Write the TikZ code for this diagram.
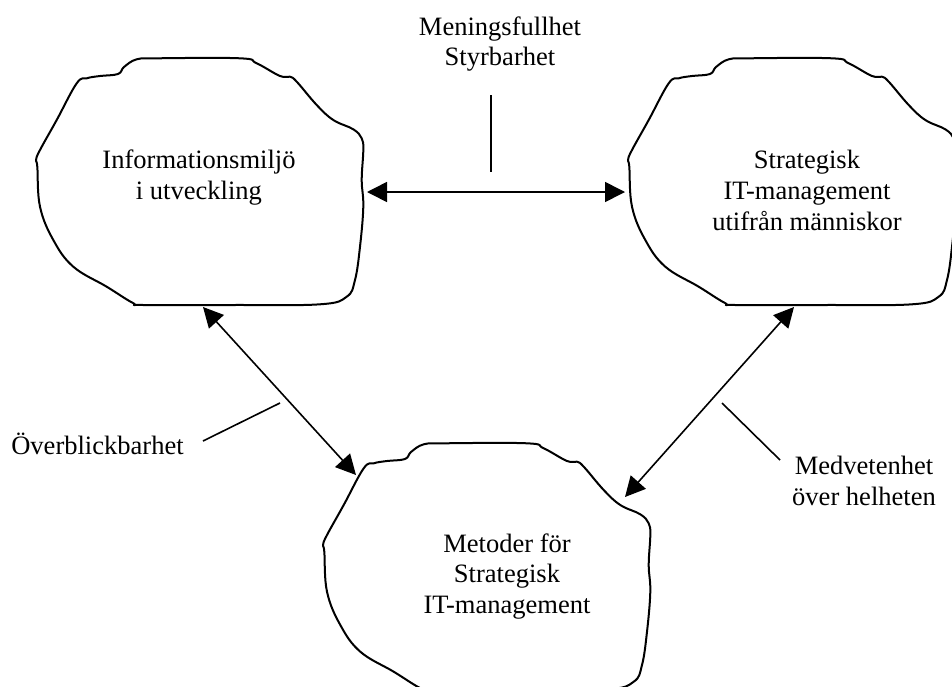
\documentclass[tikz,border=0pt]{standalone}
\usepackage{fontspec}
\setmainfont{Liberation Serif}
\usetikzlibrary{arrows.meta}
\definecolor{CloudInk}{HTML}{000000}
\tikzset{
  blobline/.style={draw=CloudInk, line width=1.5pt, line join=round},
  twoway/.style={{Triangle[length=15pt,width=15pt]}-{Triangle[length=15pt,width=15pt]},
                 line width=1.2pt, draw=CloudInk},
  leader/.style={line width=1.2pt, draw=CloudInk},
  label/.style={font=\fontsize{19.9}{23.2}\selectfont, align=center, inner sep=0pt, text=CloudInk},
  blobpic/.pic={
    \draw[blobline] plot[smooth cycle, tension=0.65] coordinates {
      (88,9) (100.7,1.3) (120.7,0.3) (204,0.3) (220.7,5.3) (244,18) (254,18.7)
      (261,24) (280.7,47) (297.3,62) (317.3,71.3) (325.7,80.3) (327.3,92)
      (325.7,122) (327.3,148.7) (324,188.7) (319,222) (310.7,238.7) (284,246.3)
      (197,247) (107.3,247) (97,245) (70.7,228.7) (37.3,208.7) (17.3,182)
      (4,148.7) (1.3,108.7) (0,102) (4,92) (20.7,62) (40.7,25.3) (50.7,20.3)
      (64,18) (82,16)};
  },
}
\begin{document}
\begin{tikzpicture}[x=0.75pt,y=-0.75pt]
  \useasboundingbox (0,0) rectangle (952,686);
  \clip (0,0) rectangle (952,686);
  % the three clouds
  \pic at (36,58) {blobpic};
  \pic at (628,58) {blobpic};
  \pic at (323,443) {blobpic};
  \node[label] (info) at (199,177.5) {Informationsmiljö\\i utveckling};
  \node[label] (strat) at (807,190) {Strategisk\\IT-management\\utifrån människor};
  \node[label] (meth) at (507,576.5) {Metoder för\\Strategisk\\IT-management};
  % qualities
  \node[label] (sense) at (500,44) {Meningsfullhet\\Styrbarhet};
  \node[label] (overview) at (97.5,444) {Överblickbarhet};
  \node[label] (aware) at (864,481) {Medvetenhet\\över helheten};
  % arrow ends on the cloud borders
  \coordinate (info-e) at (367,192);
  \coordinate (strat-w) at (625,192);
  \coordinate (info-s) at (203,307);
  \coordinate (meth-nw) at (356,475);
  \coordinate (strat-s) at (794,307);
  \coordinate (meth-ne) at (625,497);
  \draw[twoway] (info-e) -- (strat-w);
  \draw[twoway] (info-s) -- (meth-nw);
  \draw[twoway] (strat-s) -- (meth-ne);
  % leader lines
  \coordinate (sense-a) at (491,95);
  \coordinate (sense-b) at (491,172);
  \coordinate (overview-a) at (203,441);
  \coordinate (overview-b) at (280,403);
  \coordinate (aware-a) at (722,403);
  \coordinate (aware-b) at (780,460);
  \draw[leader] (sense-a) -- (sense-b);
  \draw[leader] (overview-a) -- (overview-b);
  \draw[leader] (aware-a) -- (aware-b);
\end{tikzpicture}
\end{document}
